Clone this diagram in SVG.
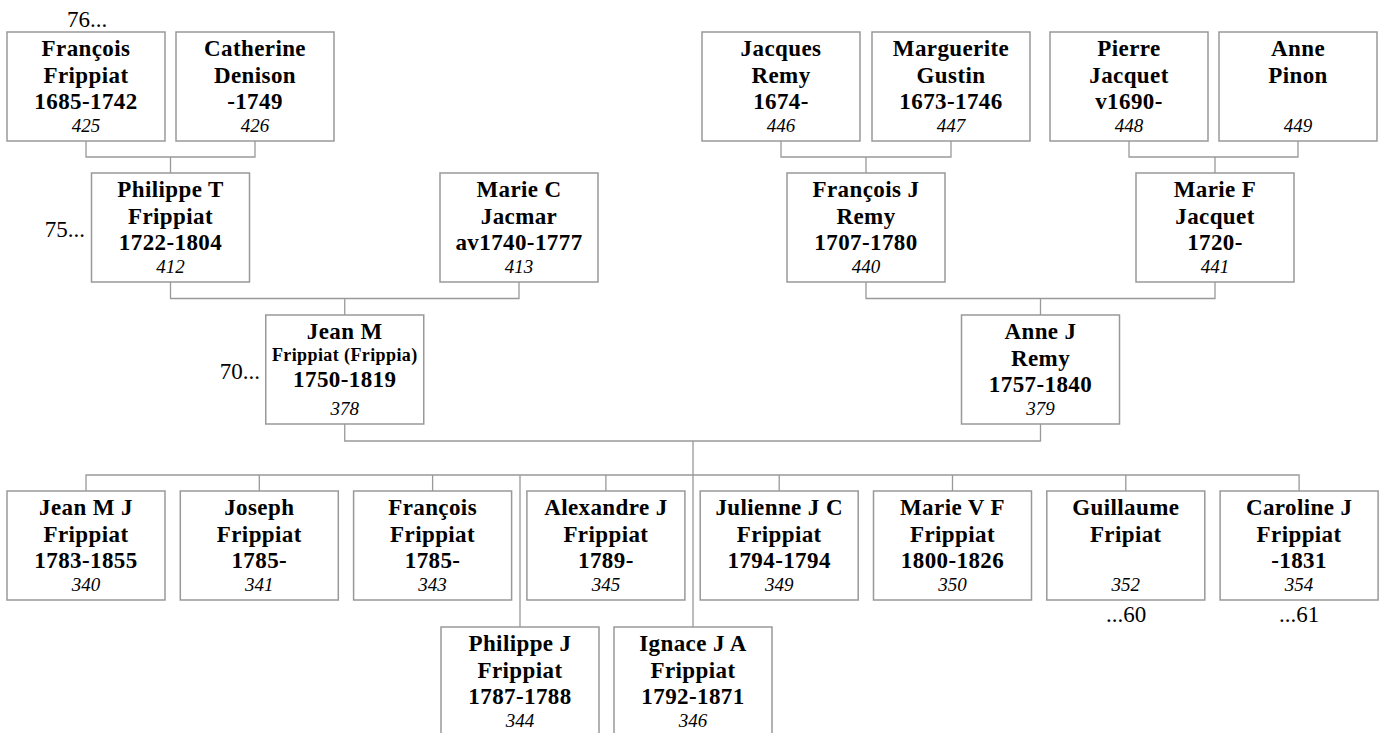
<svg xmlns="http://www.w3.org/2000/svg" width="1382" height="733" viewBox="0 0 1382 733">
<style>
.box{fill:#fff;stroke:#999;stroke-width:1.5}
.ln{fill:none;stroke:#999;stroke-width:1.3}
.nm{font-family:"Liberation Serif","Times New Roman",serif;font-weight:bold;font-size:23px;letter-spacing:0.4px;text-anchor:middle;fill:#000}
.sm{font-family:"Liberation Serif","Times New Roman",serif;font-weight:bold;font-size:18px;letter-spacing:0.4px;text-anchor:middle;fill:#000}
.id{font-family:"Liberation Serif","Times New Roman",serif;font-style:italic;font-size:19px;text-anchor:middle;fill:#000}
.lb{font-family:"Liberation Serif","Times New Roman",serif;font-size:23px;fill:#000}
</style>
<rect width="1382" height="733" fill="#fff"/>
<g id="connectors">
<path class="ln" d="M86 141V157H255V141M170.5 157V173"/>
<path class="ln" d="M781 141V157H951V141M866 157V173"/>
<path class="ln" d="M1129 141V157H1298V141M1215 157V173"/>
<path class="ln" d="M170.5 282V298.5H519V282M344.75 298.5V315"/>
<path class="ln" d="M866 282V298.5H1215V282M1040.5 298.5V315"/>
<path class="ln" d="M344.75 424V441H1040.5V424M693 441V627"/>
<path class="ln" d="M86 491V475H1299.1V491M259.3 475V491M432.6 475V491M605.9 475V491M779.2 475V491M952.5 475V491M1125.8 475V491M520 475V627"/>
</g>
<g id="labels">
<text class="lb" x="87" y="27" text-anchor="middle">76...</text>
<text class="lb" x="85" y="237" text-anchor="end">75...</text>
<text class="lb" x="260" y="379" text-anchor="end">70...</text>
<text class="lb" x="1126" y="622" text-anchor="middle">...60</text>
<text class="lb" x="1299" y="622" text-anchor="middle">...61</text>
</g>
<g id="n425" transform="translate(7,32)"><rect class="box" width="158" height="109"/><text class="nm" x="79" y="24">François</text><text class="nm" x="79" y="50.5">Frippiat</text><text class="nm" x="79" y="77">1685-1742</text><text class="id" x="79" y="100">425</text></g>
<g id="n426" transform="translate(176,32)"><rect class="box" width="158" height="109"/><text class="nm" x="79" y="24">Catherine</text><text class="nm" x="79" y="50.5">Denison</text><text class="nm" x="79" y="77">-1749</text><text class="id" x="79" y="100">426</text></g>
<g id="n446" transform="translate(702,32)"><rect class="box" width="158" height="109"/><text class="nm" x="79" y="24">Jacques</text><text class="nm" x="79" y="50.5">Remy</text><text class="nm" x="79" y="77">1674-</text><text class="id" x="79" y="100">446</text></g>
<g id="n447" transform="translate(872,32)"><rect class="box" width="158" height="109"/><text class="nm" x="79" y="24">Marguerite</text><text class="nm" x="79" y="50.5">Gustin</text><text class="nm" x="79" y="77">1673-1746</text><text class="id" x="79" y="100">447</text></g>
<g id="n448" transform="translate(1050,32)"><rect class="box" width="158" height="109"/><text class="nm" x="79" y="24">Pierre</text><text class="nm" x="79" y="50.5">Jacquet</text><text class="nm" x="79" y="77">v1690-</text><text class="id" x="79" y="100">448</text></g>
<g id="n449" transform="translate(1219,32)"><rect class="box" width="158" height="109"/><text class="nm" x="79" y="24">Anne</text><text class="nm" x="79" y="50.5">Pinon</text><text class="id" x="79" y="100">449</text></g>
<g id="n412" transform="translate(91.5,173)"><rect class="box" width="158" height="109"/><text class="nm" x="79" y="24">Philippe T</text><text class="nm" x="79" y="50.5">Frippiat</text><text class="nm" x="79" y="77">1722-1804</text><text class="id" x="79" y="100">412</text></g>
<g id="n413" transform="translate(440,173)"><rect class="box" width="158" height="109"/><text class="nm" x="79" y="24">Marie C</text><text class="nm" x="79" y="50.5">Jacmar</text><text class="nm" x="79" y="77">av1740-1777</text><text class="id" x="79" y="100">413</text></g>
<g id="n440" transform="translate(787,173)"><rect class="box" width="158" height="109"/><text class="nm" x="79" y="24">François J</text><text class="nm" x="79" y="50.5">Remy</text><text class="nm" x="79" y="77">1707-1780</text><text class="id" x="79" y="100">440</text></g>
<g id="n441" transform="translate(1136,173)"><rect class="box" width="158" height="109"/><text class="nm" x="79" y="24">Marie F</text><text class="nm" x="79" y="50.5">Jacquet</text><text class="nm" x="79" y="77">1720-</text><text class="id" x="79" y="100">441</text></g>
<g id="n378" transform="translate(265.75,315)"><rect class="box" width="158" height="109"/><text class="nm" x="79" y="23.5">Jean M</text><text class="sm" x="79" y="45.7">Frippiat (Frippia)</text><text class="nm" x="79" y="71.5">1750-1819</text><text class="id" x="79" y="100">378</text></g>
<g id="n379" transform="translate(961.5,315)"><rect class="box" width="158" height="109"/><text class="nm" x="79" y="24">Anne J</text><text class="nm" x="79" y="50.5">Remy</text><text class="nm" x="79" y="77">1757-1840</text><text class="id" x="79" y="100">379</text></g>
<g id="n340" transform="translate(7,491)"><rect class="box" width="158" height="109"/><text class="nm" x="79" y="24">Jean M J</text><text class="nm" x="79" y="50.5">Frippiat</text><text class="nm" x="79" y="77">1783-1855</text><text class="id" x="79" y="100">340</text></g>
<g id="n341" transform="translate(180.3,491)"><rect class="box" width="158" height="109"/><text class="nm" x="79" y="24">Joseph</text><text class="nm" x="79" y="50.5">Frippiat</text><text class="nm" x="79" y="77">1785-</text><text class="id" x="79" y="100">341</text></g>
<g id="n343" transform="translate(353.6,491)"><rect class="box" width="158" height="109"/><text class="nm" x="79" y="24">François</text><text class="nm" x="79" y="50.5">Frippiat</text><text class="nm" x="79" y="77">1785-</text><text class="id" x="79" y="100">343</text></g>
<g id="n345" transform="translate(526.9,491)"><rect class="box" width="158" height="109"/><text class="nm" x="79" y="24">Alexandre J</text><text class="nm" x="79" y="50.5">Frippiat</text><text class="nm" x="79" y="77">1789-</text><text class="id" x="79" y="100">345</text></g>
<g id="n349" transform="translate(700.2,491)"><rect class="box" width="158" height="109"/><text class="nm" x="79" y="24">Julienne J C</text><text class="nm" x="79" y="50.5">Frippiat</text><text class="nm" x="79" y="77">1794-1794</text><text class="id" x="79" y="100">349</text></g>
<g id="n350" transform="translate(873.5,491)"><rect class="box" width="158" height="109"/><text class="nm" x="79" y="24">Marie V F</text><text class="nm" x="79" y="50.5">Frippiat</text><text class="nm" x="79" y="77">1800-1826</text><text class="id" x="79" y="100">350</text></g>
<g id="n352" transform="translate(1046.8,491)"><rect class="box" width="158" height="109"/><text class="nm" x="79" y="24">Guillaume</text><text class="nm" x="79" y="50.5">Fripiat</text><text class="id" x="79" y="100">352</text></g>
<g id="n354" transform="translate(1220.1,491)"><rect class="box" width="158" height="109"/><text class="nm" x="79" y="24">Caroline J</text><text class="nm" x="79" y="50.5">Frippiat</text><text class="nm" x="79" y="77">-1831</text><text class="id" x="79" y="100">354</text></g>
<g id="n344" transform="translate(441,627)"><rect class="box" width="158" height="109"/><text class="nm" x="79" y="24">Philippe J</text><text class="nm" x="79" y="50.5">Frippiat</text><text class="nm" x="79" y="77">1787-1788</text><text class="id" x="79" y="100">344</text></g>
<g id="n346" transform="translate(614,627)"><rect class="box" width="158" height="109"/><text class="nm" x="79" y="24">Ignace J A</text><text class="nm" x="79" y="50.5">Frippiat</text><text class="nm" x="79" y="77">1792-1871</text><text class="id" x="79" y="100">346</text></g>
</svg>
